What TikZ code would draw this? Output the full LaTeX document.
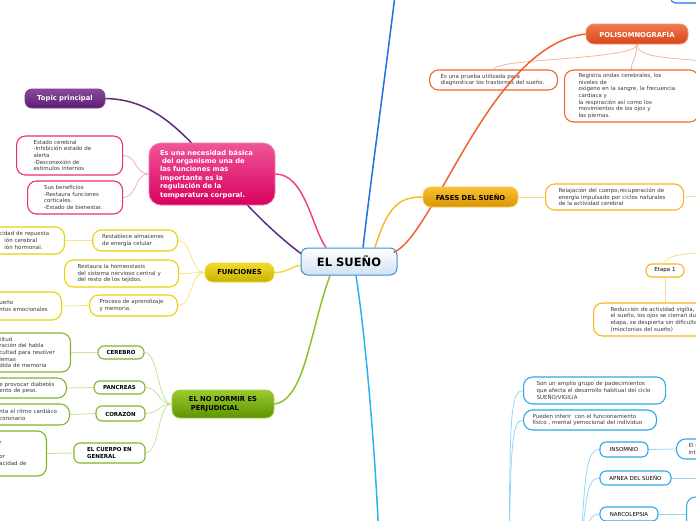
\documentclass[tikz,border=0pt]{standalone}
\usepackage{fontspec}
\setmainfont{DejaVu Sans}
\usetikzlibrary{calc,backgrounds}

\definecolor{hubline}{HTML}{3C8DD6}
\definecolor{hubfill}{HTML}{CFE2F3}
\definecolor{topictop}{HTML}{8B4A9C}
\definecolor{topicbot}{HTML}{5B1E70}
\definecolor{topicedge}{HTML}{7A3A8E}
\definecolor{purpleline}{HTML}{5E2B7E}
\definecolor{pinktop}{HTML}{F0559A}
\definecolor{pinkbot}{HTML}{D8005E}
\definecolor{pinkedge}{HTML}{F27AAE}
\definecolor{pinkline}{HTML}{F0428C}
\definecolor{pinkleaf}{HTML}{EC2D7A}
\definecolor{pinktwig}{HTML}{F6A9C9}
\definecolor{yeltop}{HTML}{F0DB2E}
\definecolor{yelbot}{HTML}{C9B100}
\definecolor{yeledge}{HTML}{ECD92C}
\definecolor{yelline}{HTML}{F2DA3A}
\definecolor{yelleaf}{HTML}{EBCF0A}
\definecolor{yeltwig}{HTML}{F5E58A}
\definecolor{greentop}{HTML}{9CCB30}
\definecolor{greenbot}{HTML}{5E9300}
\definecolor{greenedge}{HTML}{A6D04A}
\definecolor{greenline}{HTML}{8FC12A}
\definecolor{greenleaf}{HTML}{80B42A}
\definecolor{greentwig}{HTML}{C8E19C}
\definecolor{fasestop}{HTML}{F9C132}
\definecolor{fasesbot}{HTML}{D99500}
\definecolor{fasesedge}{HTML}{FAC955}
\definecolor{fasesline}{HTML}{F8B830}
\definecolor{fasesleaf}{HTML}{F6B520}
\definecolor{fasestwig}{HTML}{FCD98A}
\definecolor{poltop}{HTML}{F27A4C}
\definecolor{polbot}{HTML}{D6461C}
\definecolor{poledge}{HTML}{F49272}
\definecolor{polline}{HTML}{F06234}
\definecolor{polleaf}{HTML}{F06636}
\definecolor{poltwig}{HTML}{F5B39B}
\definecolor{blueline}{HTML}{1C6FE4}
\definecolor{cyanline}{HTML}{2DB2EE}
\definecolor{cyanleaf}{HTML}{2CA9E6}
\definecolor{cyantwig}{HTML}{95D5F5}
\definecolor{leaftext}{HTML}{3A3A3A}

\newcommand{\lffont}{\fontsize{5.5}{6.7}\selectfont}
\newcommand{\hdrfont}{\bfseries\fontsize{6.8}{8.4}\selectfont}
\newcommand{\midfont}{\bfseries\fontsize{5.5}{6.5}\selectfont}

\begin{document}
\begin{tikzpicture}[x=1pt, y=-1pt,
    hub/.style={draw=hubline, line width=1pt, top color=white, bottom color=hubfill, rounded corners=7pt, minimum width=96pt, minimum height=27pt, inner sep=0pt, font=\bfseries\fontsize{11.5}{13}\selectfont},
    main/.style={line width=0.8pt, rounded corners=8pt, inner sep=0pt, font=\hdrfont},
    leaf/.style={draw, line width=1.1pt, fill=white, rounded corners=9pt, align=left, font=\lffont, text=leaftext, inner ysep=2pt},
    mid/.style={draw, line width=1.1pt, fill=white, rounded corners=6pt, inner sep=0pt, font=\midfont},
    branch/.style={line width=1.5pt},
    twig/.style={line width=0.8pt}
]
\useasboundingbox (0,0) rectangle (696,520);
\clip (0,0) rectangle (696,520);

% centre
\node[hub] (sueno) at (349,261.5) {EL SUEÑO};

% polisomnografia
\node[main, draw=poledge, top color=poltop, bottom color=polbot, text=white, minimum width=102pt, minimum height=20pt] (poli) at (637,34) {POLISOMNOGRAFÍA};
\node[leaf, draw=polleaf, anchor=west, inner xsep=11pt, text width=106pt, minimum height=20pt] (poliA) at (429,80) {Es una prueba utilizada para\\diagnosticar los trastornos del sueño.};
\node[leaf, draw=polleaf, anchor=west, inner xsep=14pt, text width=106pt, minimum height=52pt] (poliB) at (564,96) {Registra ondas cerebrales, los\\niveles de\\oxigeno en la sangre, la frecuencia\\cardiaca y\\la respiración así como los\\movimientos de los ojos y\\las piernas.};
\coordinate (poliend) at (720,62);

\draw[branch, polline] ($(sueno.east)+(-4,-9)$) .. controls (435,235) and (490,45) .. (poli.west);

% topic principal
\node[main, draw=topicedge, top color=topictop, bottom color=topicbot, text=white, minimum width=80pt, minimum height=19pt, rounded corners=7pt] (topic) at (65,98.5) {Topic principal};

% necesidad basica
\node[main, draw=pinkedge, top color=pinktop, bottom color=pinkbot, text=white, rounded corners=12pt, align=left, text width=104pt, inner xsep=11pt, minimum height=62pt] (necesidad) at (212,174) {Es una necesidad básica\\\hspace*{2pt}del organismo una de\\las funciones mas\\importante es la\\regulación de la\\temperatura corporal.};
\node[leaf, draw=pinkleaf, anchor=west, inner xsep=17pt, text width=72pt, minimum height=39pt] (estado) at (16,155.5) {Estado cerebral\\-Inhibición estado de\\alerta\\-Desconexión de\\estímulos internos};
\node[leaf, draw=pinkleaf, anchor=west, inner xsep=16.5pt, text width=62pt, minimum height=33pt] (beneficios) at (27,197.5) {Sus beneficios\\-Restaura funciones\\corticales.\\-Estado de bienestar.};

% funciones
\node[main, draw=yeledge, top color=yeltop, bottom color=yelbot, minimum width=69pt, minimum height=19pt] (funciones) at (239.5,272.5) {FUNCIONES};
\node[leaf, draw=yelleaf, anchor=west, inner xsep=9.5pt, text width=66pt, minimum height=21pt] (restablece) at (92,240.5) {Restablece almacenes\\de energía celular};
\node[leaf, draw=yelleaf, anchor=west, inner xsep=13pt, text width=88pt, minimum height=27pt] (restaura) at (64,273.5) {Restaura la homeostasís\\del sistema nervioso central y\\del resto de los tejidos.};
\node[leaf, draw=yelleaf, anchor=west, inner xsep=10pt, text width=68pt, minimum height=21pt] (proceso) at (89,305.5) {Proceso de aprendizaje\\y memoria.};
\node[leaf, draw=yelleaf, anchor=east, inner xsep=12pt, text width=53pt, minimum height=27pt] (funcA) at (65,240.5) {cidad de repuesta\\\hspace*{5pt}ión cerebral\\\hspace*{5pt}ión hormonal.};
\node[leaf, draw=yelleaf, anchor=east, inner xsep=12pt, text width=50pt, minimum height=28pt] (funcB) at (62,306) {ueño\\ntos emocionales};

% no dormir
\node[main, draw=greenedge, top color=greentop, bottom color=greenbot, align=left, minimum width=102pt, minimum height=28pt] (nodormir) at (223,404) {EL NO DORMIR ES\\\hspace*{2pt}PERJUDICIAL};
\node[mid, draw=greenleaf, minimum width=46pt, minimum height=13pt] (cerebro) at (121,352.5) {CEREBRO};
\node[mid, draw=greenleaf, minimum width=51pt, minimum height=13pt] (pancreas) at (119.5,387.5) {PANCREAS};
\node[mid, draw=greenleaf, minimum width=49pt, minimum height=15pt] (corazon) at (120.5,413.5) {CORAZÓN};
\node[mid, draw=greenleaf, align=left, minimum width=71pt, minimum height=20pt] (cuerpo) at (109.5,453) {EL CUERPO EN\\GENERAL};
\node[leaf, draw=greenleaf, anchor=east, inner xsep=10pt, text width=61pt, minimum height=39pt] (cerChild) at (71,352.5) {titud\\ración del habla\\cultad para resolver\\lemas\\dida de memoria};
\node[leaf, draw=greenleaf, anchor=east, inner xsep=10pt, text width=57pt, minimum height=20pt] (pancChild) at (67,388) {e provocar diabetés\\ento de peso.};
\node[leaf, draw=greenleaf, anchor=east, inner xsep=8pt, text width=62pt, minimum height=21pt] (corChild) at (70,414.5) {nta el ritmo cardiáco\\coronario};
\node[leaf, draw=greenleaf, anchor=east, inner xsep=10pt, text width=37pt, minimum height=45pt] (cuerChild) at (47,453.5) {r\\\mbox{}\\or\\acidad de};

% fases del sueno
\node[main, draw=fasesedge, top color=fasestop, bottom color=fasesbot, minimum width=95pt, minimum height=20pt] (fases) at (470.5,197) {FASES DEL SUEÑO};
\node[leaf, draw=fasesleaf, anchor=west, inner xsep=13pt, text width=112pt, minimum height=26pt] (fasesChild) at (545,197) {Relajación del cuerpo,recuperación de\\energía impulsado por ciclos naturales\\de la actividad cerebral};
\node[mid, draw=fasesleaf, font=\lffont, minimum width=38pt, minimum height=13pt] (etapa) at (665,270.5) {Etapa 1};
\node[leaf, draw=fasesleaf, anchor=west, inner xsep=17pt, text width=130pt, minimum height=33pt] (reduccion) at (593,319.5) {Reducción de actividad vigilia,\\el sueño, los ojos se cierran du\\etapa, se despierta sin dificulta\\(mioclonias del sueño)};
\coordinate (fasesend) at (720,195);
\coordinate (etapaparent) at (720,252);

% trastornos
\node[leaf, draw=cyanleaf, anchor=west, inner xsep=13pt, text width=116pt, minimum height=27pt] (son) at (523,390.5) {Son un amplio grupo de padecimientos\\que afecta el desarrollo habitual del ciclo\\SUEÑO/VIGILIA};
\node[leaf, draw=cyanleaf, anchor=west, inner xsep=9pt, text width=115pt, minimum height=20pt] (pueden) at (523,420) {Pueden inferir\ \ con el funcionamiento\\físico , mental yemocional del individuo};
\node[mid, draw=cyanleaf, font=\lffont, minimum width=48pt, minimum height=15pt] (insomnio) at (624,449.5) {INSOMNIO};
\node[mid, draw=cyanleaf, font=\lffont, minimum width=71pt, minimum height=14pt] (apnea) at (635.5,478) {APNEA DEL SUEÑO};
\node[mid, draw=cyanleaf, font=\lffont, minimum width=58pt, minimum height=14pt] (narco) at (629,514) {NARCOLEPSIA};
\node[leaf, draw=cyanleaf, anchor=west, inner xsep=12pt, text width=40pt, minimum height=20pt] (insChild) at (676,449) {El s\\int};
\node[leaf, draw=cyanleaf, anchor=west, minimum width=60pt, minimum height=62pt] (narcoChild) at (686,528) {};
\coordinate (apneaend) at (720,478);
\coordinate (cyanL) at (509,560);
\coordinate (cyanR) at (580,560);
\coordinate (cyanend) at (379,540);

% top branch
\node[leaf, draw=blueline, anchor=south west, minimum width=60pt, minimum height=20pt, rounded corners=5pt] (topblue) at (670,3.5) {};
\coordinate (blueend) at (398,-30);

\begin{scope}[on background layer]
\clip (0,0) rectangle (696,520);
\draw[branch, purpleline] (topic.east) .. controls (185,100) and (210,185) .. ($(sueno.west)+(1,-7.5)$);
\draw[branch, pinkline] (necesidad.east) .. controls (305,174) and (312,228) .. ($(sueno.north)+(-23,0)$);
\draw[branch, yelline] (funciones.east) .. controls (290,272.5) and (290,266) .. ($(sueno.west)+(0,4)$);
\draw[branch, greenline] ($(sueno.south)+(-19,0)$) .. controls (310,330) and (305,400) .. (nodormir.east);
\draw[branch, fasesline] ($(sueno.north)+(26,0)$) .. controls (388,205) and (400,197) .. (fases.west);
\draw[branch, blueline] ($(sueno.north)+(14,0)$) .. controls (372,170) and (390,40) .. (blueend);
\draw[branch, cyanline] ($(sueno.south)+(7,0)$) .. controls (366,340) and (375,450) .. (cyanend);

\foreach \n in {estado,beneficios}
  \draw[twig, pinktwig] (necesidad.west) .. controls +(-14,0) and +(14,0) .. (\n.east);
\foreach \n in {restablece,restaura,proceso}
  \draw[twig, yeltwig] (funciones.west) .. controls +(-14,0) and +(14,0) .. (\n.east);
\draw[twig, yeltwig] (restablece.west) -- (funcA.east);
\draw[twig, yeltwig] (proceso.west) -- (funcB.east);
\foreach \n in {cerebro,pancreas,corazon,cuerpo}
  \draw[twig, greentwig] (nodormir.west) .. controls +(-14,0) and +(14,0) .. (\n.east);
\foreach \a/\b in {cerebro/cerChild,pancreas/pancChild,corazon/corChild,cuerpo/cuerChild}
  \draw[twig, greentwig] (\a.west) -- (\b.east);

\draw[twig, fasestwig] (fases.east) -- (fasesChild.west);
\draw[twig, fasestwig] (fasesChild.east) -- (fasesend);
\draw[twig, fasestwig] (etapa.north) .. controls (665,256) and (680,253) .. (etapaparent);
\draw[twig, fasestwig] (etapa.south) -- (etapa.south |- reduccion.north);

\draw[twig, poltwig] (poli.south) .. controls (637,60) and (495,58) .. (poliA.north);
\draw[twig, poltwig] (poli.south) .. controls (637,58) and (631,60) .. (poliB.north);
\draw[twig, poltwig] (poli.south) .. controls (637,58) and (670,58) .. (poliend);

\draw[twig, cyantwig] (cyanL) .. controls (510,420) and (510,390.5) .. (son.west);
\draw[twig, cyantwig] (cyanL) .. controls (511,450) and (511,420) .. (pueden.west);
\draw[twig, cyantwig] (cyanR) .. controls (585,480) and (585,449.5) .. (insomnio.west);
\draw[twig, cyantwig] (cyanR) .. controls (586,500) and (586,478) .. (apnea.west);
\draw[twig, cyantwig] (cyanR) .. controls (587,530) and (587,514) .. (narco.west);
\draw[twig, cyantwig] (insomnio.east) -- (insChild.west);
\draw[twig, cyantwig] (apnea.east) -- (apneaend);
\draw[twig, cyantwig] (narco.east) -- (narco.east -| narcoChild.west);
\end{scope}
\end{tikzpicture}
\end{document}
